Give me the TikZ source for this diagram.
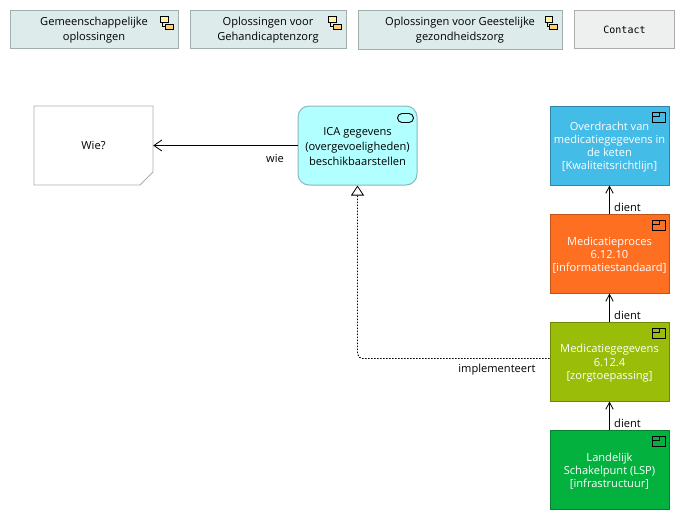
\documentclass[tikz,border=0pt]{standalone}
\usepackage{fontspec}
\setmainfont{Open Sans}
\setmonofont{DejaVu Sans Mono}
\usetikzlibrary{arrows.meta}
\definecolor{tealfill}{HTML}{DDEBEB}
\definecolor{tealline}{HTML}{A0AEAE}
\definecolor{greyfill}{HTML}{EEF0EF}
\definecolor{greyline}{HTML}{ABADAC}
\definecolor{cyanfill}{HTML}{B2FFFF}
\definecolor{cyanline}{HTML}{8AB8BC}
\definecolor{bluefill}{HTML}{44BCE8}
\definecolor{blueline}{HTML}{2F86A8}
\definecolor{orangefill}{HTML}{FF6F21}
\definecolor{orangeline}{HTML}{BF5418}
\definecolor{limefill}{HTML}{9ABD0A}
\definecolor{limeline}{HTML}{6F8808}
\definecolor{greenfill}{HTML}{03B13F}
\definecolor{greenline}{HTML}{07802F}
\definecolor{iconpale}{HTML}{FFF3A6}
\definecolor{icondeep}{HTML}{FFCF70}
\tikzstyle{every node}=[font=\fontsize{11.1}{15}\selectfont,align=center,inner sep=0pt]
\tikzstyle{menu}=[draw=tealline,fill=tealfill,line width=1pt,minimum height=38,anchor=north west]
\tikzstyle{layer}=[draw,line width=1pt,minimum width=119,minimum height=79,text=white,text height=38.4,font=\fontsize{11.1}{13.2}\selectfont]
\tikzstyle{tag}=[font=\fontsize{11.1}{12}\selectfont]
\tikzstyle{serves}=[-{Straight Barb[length=7,width=7.5,line width=0.8]},line width=0.9pt]
\tikzstyle{assoc}=[-{Straight Barb[length=8,width=11,line width=0.8]},line width=0.9pt]
\begin{document}
\begin{tikzpicture}[x=1pt,y=-1pt,node distance=108]
  \useasboundingbox (0,0) rectangle (685,520);
  \node(g1)[menu,minimum width=168] at (10,10){};
  \node at (94,30.5){Gemeenschappelijke\\oplossingen};
  \node(g2)[menu,minimum width=156] at (190,10){};
  \node at (268,30.5){Oplossingen voor\\Gehandicaptenzorg};
  \node(g3)[menu,minimum width=204,minimum height=39] at (358,10){};
  \node at (460,30.5){Oplossingen voor Geestelijke\\gezondheidszorg};
  \node(contact)[menu,draw=greyline,fill=greyfill,minimum width=100] at (574,10){{\ttfamily\fontsize{10}{12}\selectfont Contact}};
  \node(wie)[minimum width=119,minimum height=79] at (93.5,145.5){Wie?};
  \draw[greyline,line width=.8pt] (34,106) -- (153,106) -- (153,172) -- (140,185) -- (34,185) -- cycle;
  \node(ica)[draw=cyanline,fill=cyanfill,line width=1pt,rounded corners=11,minimum width=119,minimum height=79,text height=41] at (357.5,145.5){ICA gegevens\\(overgevoeligheden)\\beschikbaarstellen};
  \node(overdracht)[layer,draw=blueline,fill=bluefill,text height=51.6] at (609.5,145.5){Overdracht van\\medicatiegegevens in\\de keten\\{}[Kwaliteitsrichtlijn]};
  \node(proces)[layer,draw=orangeline,fill=orangefill,below of=overdracht]{Medicatieproces\\6.12.10\\{}[informatiestandaard]};
  \node(gegevens)[layer,draw=limeline,fill=limefill,below of=proces]{Medicatiegegevens\\6.12.4\\{}[zorgtoepassing]};
  \node(lsp)[layer,draw=greenline,fill=greenfill,below of=gegevens]{Landelijk\\Schakelpunt (LSP)\\{}[infrastructuur]};
  \draw[assoc] (ica) -- (wie);
  \draw[serves] (proces) -- (overdracht);
  \draw[serves] (gegevens) -- (proces);
  \draw[serves] (lsp) -- (gegevens);
  \draw[line width=.9pt,dash pattern=on 1.5pt off 1.5pt,rounded corners=5,-{Triangle[open,length=10,width=13,fill=white,line width=.8]}] ([yshift=3]gegevens.west) -| (ica.south);
  \node(wietag)[tag] at (275,158){wie};
  \node(impl)[tag] at (497,370){implementeert};
  \node(dient1)[tag,anchor=west] at (614,207){dient};
  \node(dient2)[tag,anchor=west] at (614,315){dient};
  \node(dient3)[tag,anchor=west] at (614,423){dient};
  % icons
  \foreach \x in {160.5,328.5,545}{
    \draw[line width=.9pt] (\x+2,22) |- (\x+5,26.5);
    \draw[line width=.9pt,fill=iconpale] (\x,16.5) rectangle +(7.5,5.5);
    \draw[line width=.9pt,fill=icondeep] (\x+4.5,24) rectangle +(8,5.5);
  }
  \foreach \y in {113,221,329,437}{
    \draw[line width=1pt] (652.5,\y-.5) rectangle (665.5,\y+9.5);
    \draw[line width=1pt] (652.5,\y+3) -| (659,\y-.5);
  }
  \draw[line width=.9pt,rounded corners=4.5] (397.5,113.5) rectangle (413.5,122.5);
\end{tikzpicture}
\end{document}
